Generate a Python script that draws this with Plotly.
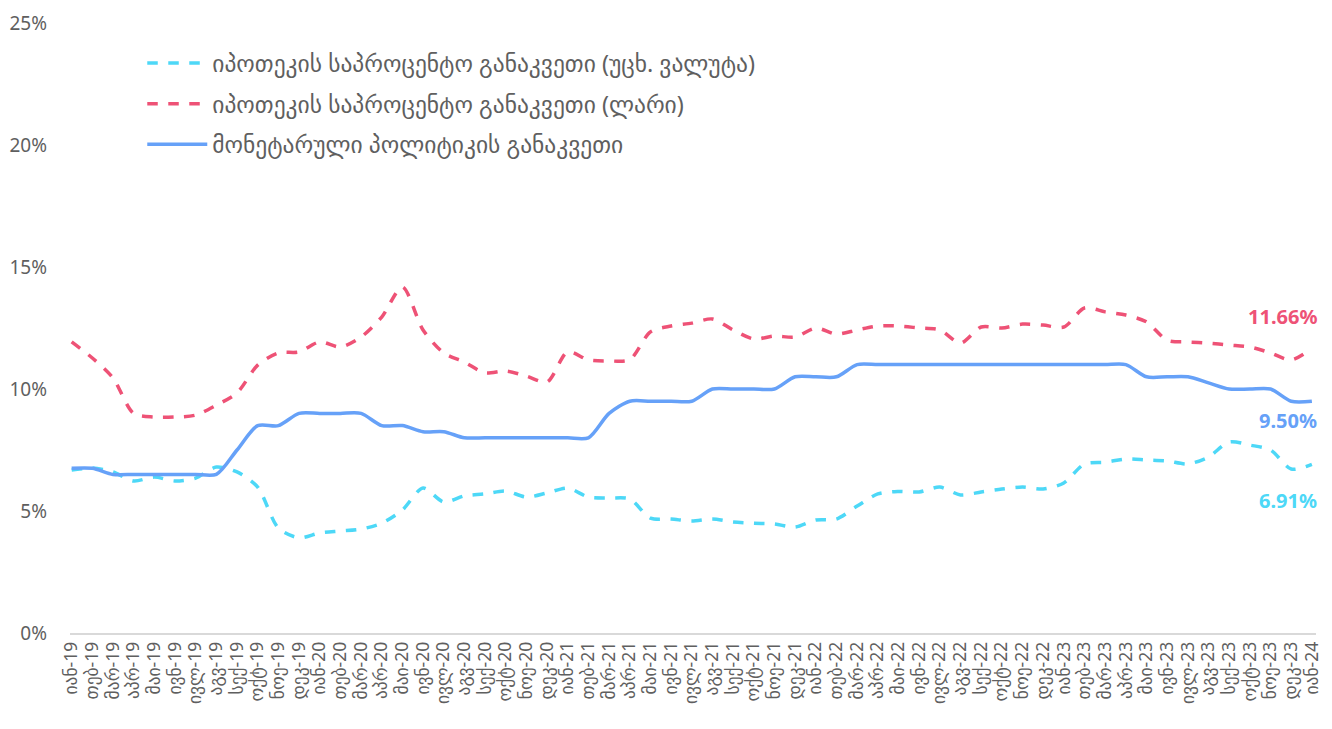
import plotly.graph_objects as go

months = ["იან", "თებ", "მარ", "აპრ", "მაი", "ივნ", "ივლ", "აგვ", "სექ", "ოქტ", "ნოე", "დეკ"]
years = ["19", "20", "21", "22", "23", "24"]
tick_labels = [f"{m}-{y}" for y in years for m in months][:61]

fx_rate = [6.68, 6.76, 6.6, 6.23, 6.39, 6.23, 6.35, 6.8, 6.6, 5.98,
           4.3, 3.9, 4.1, 4.18, 4.26, 4.5, 5.04, 5.94, 5.37, 5.62,
           5.7, 5.82, 5.57, 5.74, 5.94, 5.57, 5.53, 5.49, 4.71, 4.67,
           4.59, 4.67, 4.55, 4.5, 4.47, 4.34, 4.63, 4.67, 5.2, 5.7,
           5.8, 5.78, 5.98, 5.66, 5.78, 5.9, 5.98, 5.9, 6.15, 6.93,
           7.0, 7.13, 7.09, 7.05, 6.93, 7.21, 7.83, 7.7, 7.5, 6.72,
           6.91]
gel_rate = [11.93, 11.27, 10.45, 9.0, 8.85, 8.85, 8.93, 9.34, 9.84, 10.98,
            11.48, 11.52, 11.93, 11.72, 12.13, 12.95, 14.18, 12.42, 11.48, 11.1,
            10.66, 10.74, 10.53, 10.29, 11.52, 11.19, 11.15, 11.2, 12.34, 12.58,
            12.7, 12.87, 12.42, 12.05, 12.17, 12.13, 12.5, 12.25, 12.42, 12.58,
            12.58, 12.5, 12.42, 11.88, 12.54, 12.5, 12.66, 12.62, 12.54, 13.32,
            13.16, 13.03, 12.75, 12.0, 11.93, 11.88, 11.8, 11.72, 11.48, 11.19,
            11.66]
policy_rate = [6.75, 6.75, 6.5, 6.5, 6.5, 6.5, 6.5, 6.5, 7.5, 8.5,
               8.5, 9.0, 9.0, 9.0, 9.0, 8.5, 8.5, 8.25, 8.25, 8.0,
               8.0, 8.0, 8.0, 8.0, 8.0, 8.0, 9.0, 9.5, 9.5, 9.5,
               9.5, 10.0, 10.0, 10.0, 10.0, 10.5, 10.5, 10.5, 11.0, 11.0,
               11.0, 11.0, 11.0, 11.0, 11.0, 11.0, 11.0, 11.0, 11.0, 11.0,
               11.0, 11.0, 10.5, 10.5, 10.5, 10.25, 10.0, 10.0, 10.0, 9.5,
               9.5]

names = ["იპოთეკის საპროცენტო განაკვეთი (უცხ. ვალუტა)",
         "იპოთეკის საპროცენტო განაკვეთი (ლარი)",
         "მონეტარული პოლიტიკის განაკვეთი"]
colors = ["#4dd8f7", "#ee5276", "#66a1f8"]
end_labels = ["6.91%", "11.66%", "9.50%"]

x = list(range(len(tick_labels)))
font_family = "Noto Sans, DejaVu Sans, sans-serif"
text_color = "#5f5f5f"

fig = go.Figure()
series = [fx_rate, gel_rate, policy_rate]
dashes = ["dash", "dash", "solid"]
for i, (s, n, c, d) in enumerate(zip(series, names, colors, dashes)):
    fig.add_trace(go.Scatter(
        x=x, y=s, name=n, mode="lines", legendgroup=f"g{i}",
        line=dict(color=c, width=3.5, dash=d, shape="spline", smoothing=0.8),
        hoverinfo="skip"))

shifts = [-36, 32, -19]
for s, c, lab, sh in zip(series, colors, end_labels, shifts):
    fig.add_annotation(x=x[-1], y=s[-1], text=f"<b>{lab}</b>", showarrow=False,
                       xanchor="right", yanchor="middle", xshift=7, yshift=sh,
                       font=dict(color=c, size=20, family=font_family))

fig.update_layout(
    width=1316, height=721,
    margin=dict(l=62, r=8, t=15, b=96),
    paper_bgcolor="white", plot_bgcolor="white",
    font=dict(family=font_family, color=text_color),
    showlegend=True,
    legend=dict(x=0.058, y=0.97, xanchor="left", yanchor="top",
                font=dict(size=23.5, color=text_color, family=font_family),
                bgcolor="rgba(0,0,0,0)", itemwidth=60, tracegroupgap=7,
                traceorder="grouped"),
    xaxis=dict(range=[-0.08, 60.2], tickmode="array", tickvals=x, ticktext=tick_labels,
               tickangle=-90, showgrid=False, zeroline=False, showline=True,
               linecolor="#d9d9d9", linewidth=1.5, ticks="", automargin=False,
               tickfont=dict(size=17.5, color=text_color, family=font_family)),
    yaxis=dict(range=[0, 25], tickvals=[0, 5, 10, 15, 20, 25],
               ticktext=["0%", "5%", "10%", "15%", "20%", "25%"],
               showgrid=False, zeroline=False, showline=False, ticks="",
               ticklabelstandoff=22, automargin=False,
               tickfont=dict(size=19, color=text_color, family=font_family)),
)

fig.write_html("out.html")
